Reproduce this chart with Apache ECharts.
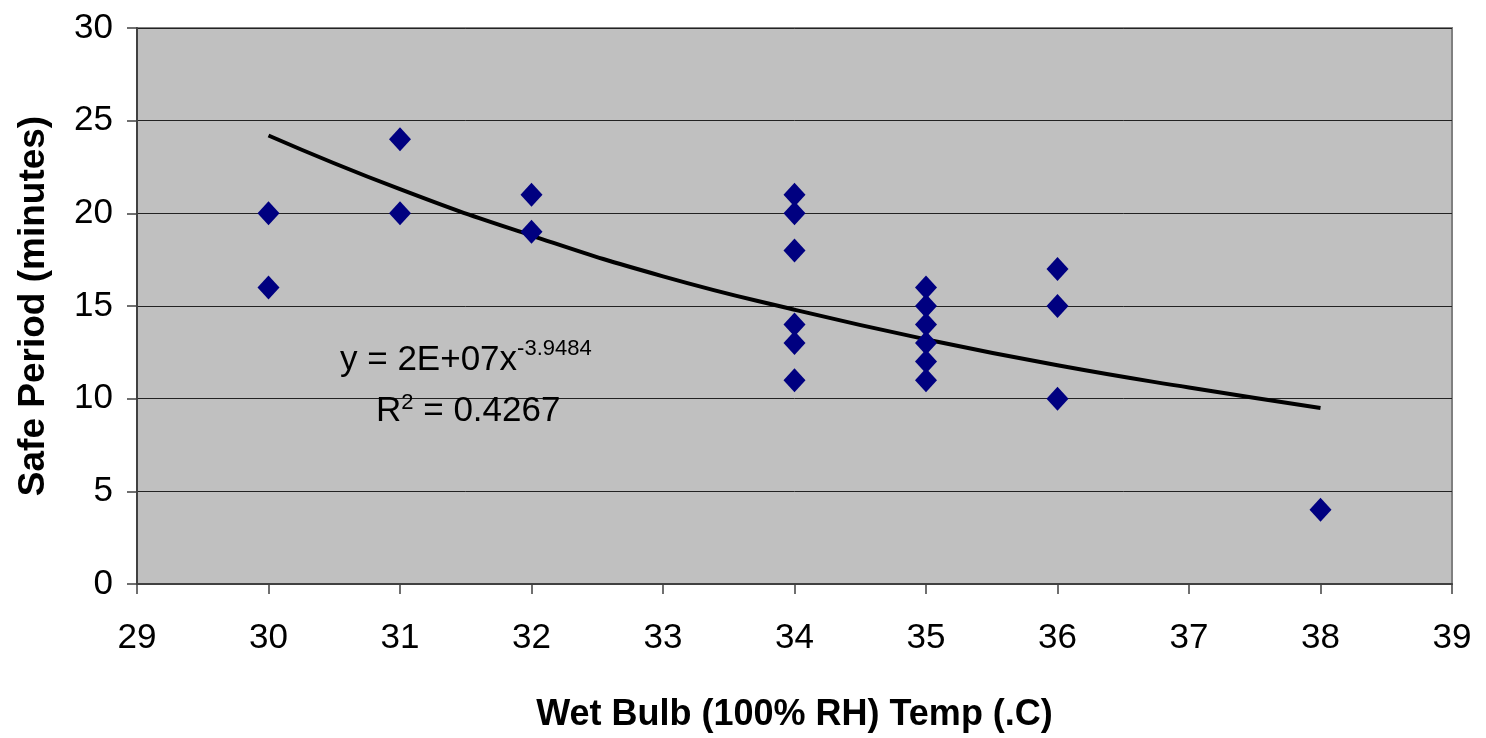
<!DOCTYPE html>
<html>
<head>
<meta charset="utf-8">
<script src="https://cdn.jsdelivr.net/npm/echarts@6/dist/echarts.min.js"></script>
<style>
  html, body { margin: 0; padding: 0; background: #fff; }
  #chart { width: 1486px; height: 738px; }
</style>
</head>
<body>
<div id="chart"></div>
<script>
// measured points (wet bulb temp, safe period)
var tempX = [30, 30, 31, 31, 32, 32, 34, 34, 34, 34, 34, 34, 35, 35, 35, 35, 35, 35, 36, 36, 36, 38];
var safeMin = [20, 16, 24, 20, 21, 19, 21, 20, 18, 14, 13, 11, 16, 15, 14, 13, 12, 11, 17, 15, 10, 4];

// power trendline
var trendX = [30, 31, 32, 33, 34, 35, 36, 37, 38];
var trendY = [24.2, 21.3, 18.8, 16.6, 14.8, 13.2, 11.8, 10.6, 9.5];

var xTicks = [29, 39, 1];
var yTicks = [0, 30, 5];

var chart = echarts.init(document.getElementById('chart'));
var font = 'Liberation Sans, Arial, sans-serif';

chart.setOption({
  animation: false,
  grid: {
    left: 137, right: 34, top: 28, bottom: 153,
    show: true,
    backgroundColor: '#C0C0C0',
    borderColor: '#808080',
    borderWidth: 2
  },
  xAxis: {
    type: 'value',
    min: xTicks[0], max: xTicks[1], interval: xTicks[2],
    name: 'Wet Bulb (100% RH) Temp (.C)',
    nameLocation: 'middle',
    nameGap: 113,
    nameTextStyle: { fontFamily: font, fontWeight: 'bold', fontSize: 36, color: '#000' },
    axisLine: { lineStyle: { color: '#404040', width: 2 } },
    axisTick: { show: true, length: 10, lineStyle: { color: '#404040', width: 1.5 } },
    axisLabel: { fontFamily: font, fontSize: 35, color: '#000', margin: 37 },
    splitLine: { show: false }
  },
  yAxis: {
    type: 'value',
    min: yTicks[0], max: yTicks[1], interval: yTicks[2],
    name: 'Safe Period (minutes)',
    nameLocation: 'middle',
    nameGap: 85,
    nameTextStyle: { fontFamily: font, fontWeight: 'bold', fontSize: 37, color: '#000' },
    axisLine: { show: true, lineStyle: { color: '#404040', width: 2 } },
    axisTick: { show: true, length: 10, lineStyle: { color: '#404040', width: 1.5 } },
    axisLabel: { fontFamily: font, fontSize: 35, color: '#000', margin: 24 },
    splitLine: { show: true, lineStyle: { color: '#222', width: 1 } }
  },
  series: [
    {
      type: 'line',
      data: trendX.map(function (x, i) { return [x, trendY[i]]; }),
      smooth: true,
      showSymbol: false,
      lineStyle: { color: '#000', width: 4 },
      z: 3
    },
    {
      type: 'scatter',
      data: tempX.map(function (x, i) { return [x, safeMin[i]]; }),
      symbol: 'diamond',
      symbolSize: [22, 24],
      itemStyle: { color: '#000080', opacity: 1 },
      z: 4
    }
  ],
  graphic: [
    {
      type: 'text',
      left: 340, top: 338,
      style: {
        text: '{a|y = 2E+07x}{s|-3.9484}',
        rich: {
          a: { fontFamily: font, fontSize: 35, fill: '#000' },
          s: { fontFamily: font, fontSize: 22, fill: '#000', padding: [0, 0, 22, 0] }
        }
      },
      z: 10
    },
    {
      type: 'text',
      left: 376, top: 392,
      style: {
        text: '{a|R}{s|2}{a| = 0.4267}',
        rich: {
          a: { fontFamily: font, fontSize: 35, fill: '#000' },
          s: { fontFamily: font, fontSize: 22, fill: '#000', padding: [0, 0, 16, 0] }
        }
      },
      z: 10
    }
  ]
});
</script>
</body>
</html>
